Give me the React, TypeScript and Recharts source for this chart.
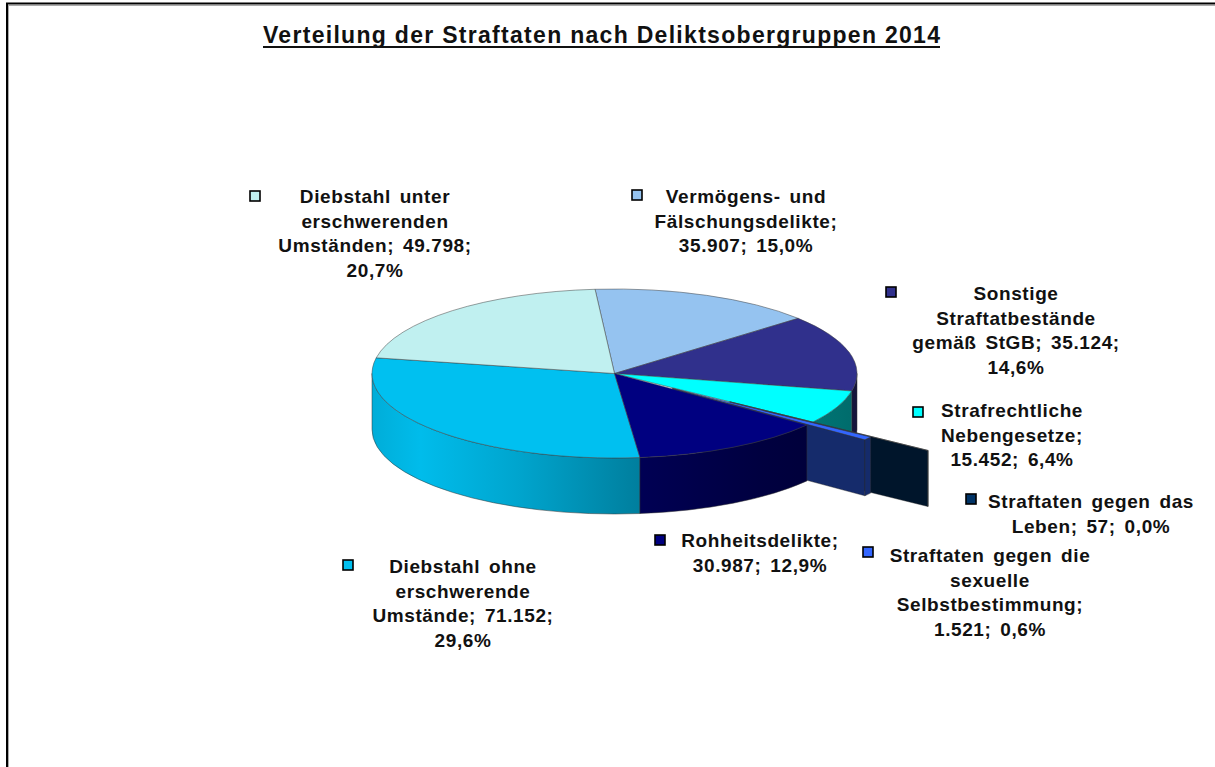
import { PieChart, Pie } from "recharts";

const categories = [
  "Vermögens- und Fälschungsdelikte",
  "Sonstige Straftatbestände gemäß StGB",
  "Strafrechtliche Nebengesetze",
  "Straftaten gegen das Leben",
  "Straftaten gegen die sexuelle Selbstbestimmung",
  "Rohheitsdelikte",
  "Diebstahl ohne erschwerende Umstände",
  "Diebstahl unter erschwerenden Umständen",
];
const counts = [35907, 35124, 15452, 57, 1521, 30987, 71152, 49798];

// line breaks of the data labels as Excel drew them; {v} = count, {p} = share
const labelLines = [
  ["Vermögens- und", "Fälschungsdelikte;", "{v}; {p}"],
  ["Sonstige", "Straftatbestände", "gemäß StGB; {v};", "{p}"],
  ["Strafrechtliche", "Nebengesetze;", "{v}; {p}"],
  ["Straftaten gegen das", "Leben; {v}; {p}"],
  ["Straftaten gegen die", "sexuelle", "Selbstbestimmung;", "{v}; {p}"],
  ["Rohheitsdelikte;", "{v}; {p}"],
  ["Diebstahl ohne", "erschwerende", "Umstände; {v};", "{p}"],
  ["Diebstahl unter", "erschwerenden", "Umständen; {v};", "{p}"],
];

const colors = ["#95c3f0", "#30308c", "#00ffff", "#003366", "#3366ff", "#000080", "#00c0f0", "#c0f0f0"];

const data = categories.map((name, i) => ({ name, value: counts[i] }));

// layout
const W = 1215;
const H = 767;
const CX = 614.5;
const CY = 373.5;
const RX = 242.5;
const K = 84.5 / 242.5; // tilt of the 3d pie
const DEPTH = 56;
const START = 94.6;
const RAD = Math.PI / 180;
const FONT = "'Liberation Sans', Arial, sans-serif";
const LH = 24.5;

const explode: Record<number, number> = { 3: 141, 4: 72 };
// which drawing pass each slice belongs to (back -> exploded -> front)
const layerOf = (i: number) => (i === 3 || i === 4 ? 1 : i === 5 ? 2 : 0);

const labelPos = [
  { x: 746, y: 203, mx: 632, my: 190 },
  { x: 1016, y: 300, mx: 886, my: 287 },
  { x: 1012, y: 417, mx: 913, my: 407 },
  { x: 1091, y: 508, mx: 966, my: 494 },
  { x: 990, y: 562, mx: 863, my: 547 },
  { x: 760, y: 547, mx: 655, my: 535 },
  { x: 463, y: 573, mx: 343, my: 560 },
  { x: 375, y: 203, mx: 250, my: 191 },
];

const shade = (hex: string, f: number) => {
  const n = parseInt(hex.slice(1), 16);
  const r = Math.round(((n >> 16) & 255) * f);
  const g = Math.round(((n >> 8) & 255) * f);
  const b = Math.round((n & 255) * f);
  return `rgb(${r},${g},${b})`;
};

const wallStops = [
  [0, 0.9],
  [0.1, 0.98],
  [0.3, 0.86],
  [0.55, 0.66],
  [0.8, 0.5],
  [1, 0.42],
];

const fmtNum = (v: number) => String(v).replace(/\B(?=(\d{3})+(?!\d))/g, ".");

function Slice3D(props: any) {
  const { cx, cy, outerRadius, startAngle, endAngle, idx } = props;
  const rx = outerRadius;
  const ry = outerRadius * K;
  const e = explode[idx] ?? 0;
  const mid = ((startAngle + endAngle) / 2) * RAD;
  const x0 = cx + e * Math.cos(mid);
  const y0 = cy - e * K * Math.sin(mid);
  const P = (deg: number, dz = 0) => [x0 + rx * Math.cos(deg * RAD), y0 - ry * Math.sin(deg * RAD) + dz];
  const hi = Math.max(startAngle, endAngle);
  const lo = Math.min(startAngle, endAngle);
  const color = colors[idx];
  const gid = `wall-${idx}`;

  const [ax, ay] = P(hi);
  const [bx, by] = P(lo);
  const top = `M${x0},${y0} L${ax},${ay} A${rx},${ry} 0 ${hi - lo > 180 ? 1 : 0} 1 ${bx},${by} Z`;

  const walls: string[] = [];
  for (const [f0, f1] of [[-540, -360], [-180, 0], [180, 360]]) {
    const s = Math.max(lo, f0);
    const t = Math.min(hi, f1);
    if (t > s) {
      const [p, q] = P(t);
      const [r, u] = P(s);
      const [r2, u2] = P(s, DEPTH);
      const [p2, q2] = P(t, DEPTH);
      const lg = t - s > 180 ? 1 : 0;
      walls.push(`M${p},${q} A${rx},${ry} 0 ${lg} 1 ${r},${u} L${r2},${u2} A${rx},${ry} 0 ${lg} 0 ${p2},${q2} Z`);
    }
  }

  const cuts: string[] = [];
  if (e > 0) {
    const side = (deg: number) => {
      const [p, q] = P(deg);
      return `M${x0},${y0} L${p},${q} L${p},${q + DEPTH} L${x0},${y0 + DEPTH} Z`;
    };
    if (Math.cos(lo * RAD) > 0) cuts.push(side(lo));
    if (Math.cos(hi * RAD) < 0) cuts.push(side(hi));
  }

  return (
    <g>
      <defs>
        <linearGradient id={gid} gradientUnits="userSpaceOnUse" x1={cx - rx} y1={0} x2={cx + rx} y2={0}>
          {wallStops.map(([o, f]) => (
            <stop key={o} offset={o} stopColor={shade(color, f)} />
          ))}
        </linearGradient>
      </defs>
      {cuts.map((d, j) => (
        <path key={`c${j}`} d={d} fill={shade(color, 0.42)} stroke="#222" strokeWidth={0.4} />
      ))}
      {walls.map((d, j) => (
        <path key={`w${j}`} d={d} fill={`url(#${gid})`} stroke="#333" strokeWidth={0.5} />
      ))}
      <path d={top} fill={color} stroke="#404040" strokeWidth={0.5} />
    </g>
  );
}

const makeShape = (layer: number) => (props: any) => {
  const name = props.payload?.name ?? props.name;
  const idx = categories.indexOf(name);
  if (layerOf(idx) !== layer) return <g />;
  return <Slice3D {...props} idx={idx} />;
};

const renderLabel = (props: any) => {
  const name = props.payload?.name ?? props.name;
  const i = categories.indexOf(name);
  const pos = labelPos[i];
  const v = fmtNum(counts[i]);
  const p = (props.percent * 100).toFixed(1).replace(".", ",") + "%";
  const lines = labelLines[i].map((l) => l.replace("{v}", v).replace("{p}", p));
  return (
    <g key={`lbl-${i}`}>
      <rect x={pos.mx} y={pos.my} width={10} height={10} fill={colors[i]} stroke="#000" strokeWidth={1.6} />
      {lines.map((l, j) => (
        <text
          key={j}
          x={pos.x}
          y={pos.y + j * LH}
          textAnchor="middle"
          fontFamily={FONT}
          fontWeight="bold"
          fontSize={19}
          fill="#111"
          style={{ letterSpacing: "0.6px", wordSpacing: "3px" }}
        >
          {l}
        </text>
      ))}
    </g>
  );
};

export default function App() {
  return (
    <div style={{ position: "absolute", left: 0, top: 0, width: W, height: H, background: "#fff", overflow: "hidden" }}>
      <svg width={W} height={H} style={{ position: "absolute", left: 0, top: 0 }}>
        <line x1={6} y1={5.5} x2={W} y2={5.5} stroke="#aaa" strokeWidth={1} />
        <line x1={8.5} y1={5} x2={8.5} y2={H} stroke="#aaa" strokeWidth={1} />
        <line x1={6} y1={3.5} x2={W} y2={3.5} stroke="#000" strokeWidth={2} />
        <line x1={7} y1={3} x2={7} y2={H} stroke="#000" strokeWidth={2} />
        <text
          x={601.5}
          y={43}
          textAnchor="middle"
          fontFamily={FONT}
          fontWeight="bold"
          fontSize={23}
          fill="#111"
          textLength={677}
          lengthAdjust="spacing"
        >
          Verteilung der Straftaten nach Deliktsobergruppen 2014
        </text>
        <line x1={263} y1={47} x2={940} y2={47} stroke="#111" strokeWidth={1.8} />
      </svg>
      <div style={{ position: "absolute", left: 0, top: 0 }}>
        <PieChart width={W} height={H} margin={{ top: 0, right: 0, bottom: 0, left: 0 }}>
          {[0, 1, 2].map((layer) => (
            <Pie
              key={layer}
              data={data}
              dataKey="value"
              nameKey="name"
              cx={CX}
              cy={CY}
              innerRadius={0}
              outerRadius={RX}
              startAngle={START}
              endAngle={START - 360}
              isAnimationActive={false}
              shape={makeShape(layer)}
              label={layer === 2 ? renderLabel : false}
              labelLine={false}
              stroke="none"
            />
          ))}
        </PieChart>
      </div>
    </div>
  );
}
